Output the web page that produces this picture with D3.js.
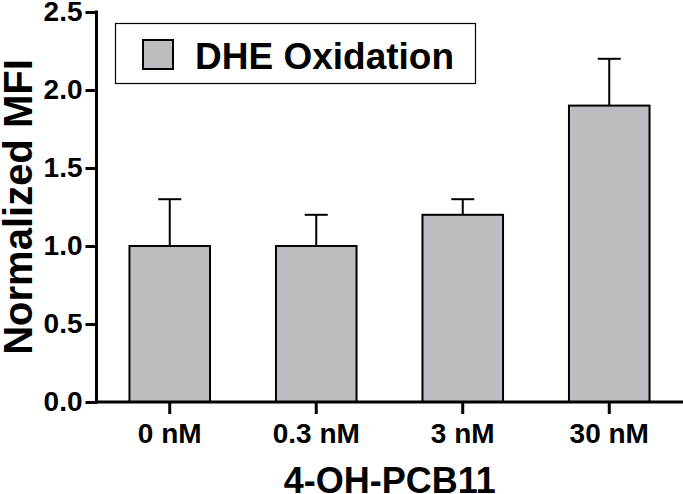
<!DOCTYPE html>
<html>
<head>
<meta charset="utf-8">
<script src="https://cdn.jsdelivr.net/npm/d3@7"></script>
<style>
  body { margin: 0; background: #fff; }
  text { font-family: "Liberation Sans", Arial, sans-serif; font-weight: bold; }
</style>
</head>
<body>
<svg id="chart"></svg>
<script>
const categories = ['0 nM', '0.3 nM', '3 nM', '30 nM'];
const means = [1.0, 1.0, 1.2, 1.9];
const errors = [0.3, 0.2, 0.1, 0.3];
const yTicks = [0, 0.5, 1.0, 1.5, 2.0, 2.5];
const legendLabel = 'DHE Oxidation';
const xTitle = '4-OH-PCB11';
const yTitle = 'Normalized MFI';

const width = 683, height = 494;
const plotLeft = 96.5, plotRight = 682.5, plotTop = 12, plotBottom = 402;
const barFill = '#bcbdc0';

const svg = d3.select('#chart')
  .attr('width', width)
  .attr('height', height);

const x = d3.scaleBand()
  .domain(categories)
  .range([plotLeft, plotRight])
  .paddingInner(0.45)
  .paddingOuter(0.225);

const y = d3.scaleLinear()
  .domain([0, 2.5])
  .range([plotBottom, plotTop]);

const data = categories.map((c, i) => ({ cat: c, mean: means[i], err: errors[i] }));

// bars
svg.selectAll('rect.bar')
  .data(data)
  .join('rect')
    .attr('class', 'bar')
    .attr('x', d => x(d.cat))
    .attr('y', d => y(d.mean))
    .attr('width', x.bandwidth())
    .attr('height', d => y(0) - y(d.mean))
    .attr('fill', barFill)
    .attr('stroke', '#000')
    .attr('stroke-width', 2);

// error bars (upper only)
const capHalf = 11.5;
const errG = svg.append('g').attr('stroke', '#000').attr('stroke-width', 2);
errG.selectAll('line.stem')
  .data(data)
  .join('line')
    .attr('class', 'stem')
    .attr('x1', d => x(d.cat) + x.bandwidth() / 2)
    .attr('x2', d => x(d.cat) + x.bandwidth() / 2)
    .attr('y1', d => y(d.mean))
    .attr('y2', d => y(d.mean + d.err));
errG.selectAll('line.cap')
  .data(data)
  .join('line')
    .attr('class', 'cap')
    .attr('x1', d => x(d.cat) + x.bandwidth() / 2 - capHalf)
    .attr('x2', d => x(d.cat) + x.bandwidth() / 2 + capHalf)
    .attr('y1', d => y(d.mean + d.err))
    .attr('y2', d => y(d.mean + d.err));

// y axis
const yAxis = svg.append('g')
  .attr('transform', `translate(${plotLeft},0)`)
  .call(d3.axisLeft(y).tickValues(yTicks).tickFormat(d3.format('.1f')).tickSize(11).tickSizeOuter(0).tickPadding(3));
yAxis.select('.domain').attr('stroke-width', 3).attr('d', `M0,${plotTop - 1.5}V${plotBottom + 1.5}`);
yAxis.selectAll('.tick line').attr('stroke-width', 3);
yAxis.selectAll('.tick text')
  .attr('font-size', 28)
  .attr('fill', '#000')
  .style('font-family', '"Liberation Sans", Arial, sans-serif')
  .style('font-weight', 'bold');

// x axis
const xAxis = svg.append('g')
  .attr('transform', `translate(0,${plotBottom})`)
  .call(d3.axisBottom(x).tickSize(12).tickSizeOuter(0).tickPadding(9));
xAxis.select('.domain').attr('stroke-width', 3).attr('d', `M${plotLeft - 1.5},0H${width}`);
xAxis.selectAll('.tick line').attr('stroke-width', 3);
xAxis.selectAll('.tick text')
  .attr('font-size', 28)
  .attr('fill', '#000')
  .style('font-family', '"Liberation Sans", Arial, sans-serif')
  .style('font-weight', 'bold');

// axis titles
svg.append('text')
  .attr('x', (plotLeft + width) / 2)
  .attr('y', 493)
  .attr('text-anchor', 'middle')
  .attr('font-size', 36)
  .text(xTitle);

svg.append('text')
  .attr('transform', `translate(32,${(plotTop + plotBottom) / 2}) rotate(-90)`)
  .attr('text-anchor', 'middle')
  .attr('font-size', 40)
  .text(yTitle);

// legend
const lg = svg.append('g');
lg.append('rect')
  .attr('x', 115.5).attr('y', 23.5)
  .attr('width', 360).attr('height', 60)
  .attr('fill', '#fff')
  .attr('stroke', '#000')
  .attr('stroke-width', 1.2);
lg.append('rect')
  .attr('x', 143).attr('y', 40)
  .attr('width', 30).attr('height', 29)
  .attr('fill', barFill)
  .attr('stroke', '#000')
  .attr('stroke-width', 2);
lg.append('text')
  .attr('x', 195)
  .attr('y', 69)
  .attr('font-size', 37)
  .text(legendLabel);
</script>
</body>
</html>
